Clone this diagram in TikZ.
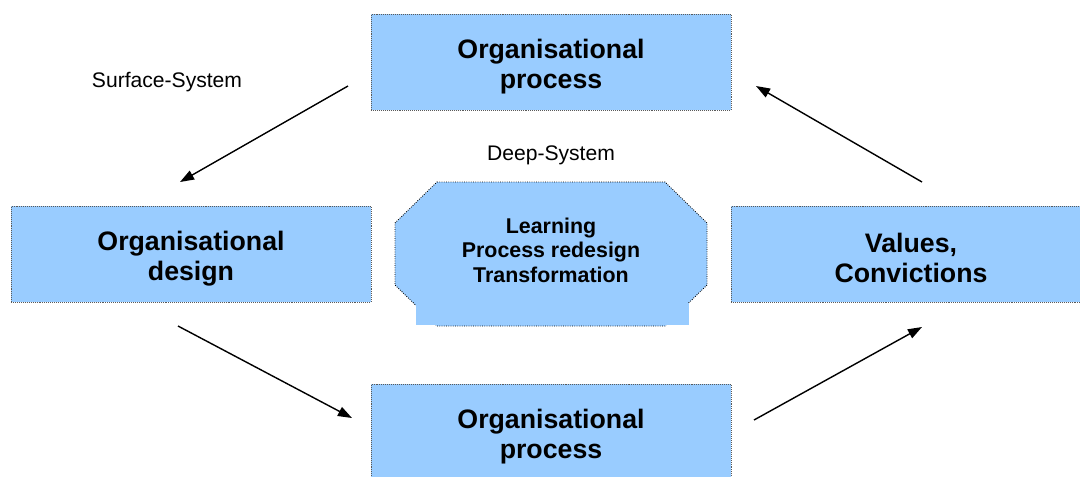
\documentclass[tikz,border=0pt]{standalone}
\usepackage{fontspec}
\setmainfont{Liberation Sans}
\usepackage{tikz}
\usetikzlibrary{arrows.meta,positioning,calc}
\definecolor{boxblue}{HTML}{99CCFF}
\newcommand{\boxlift}{\rule{0pt}{20pt}}

\begin{document}
\begin{tikzpicture}[x=0.025cm, y=-0.025cm,
  box/.style={draw=black!65, densely dotted, line width=0.4pt, fill=boxblue, align=center, minimum width=9cm, minimum height=2.4cm, inner sep=0pt, font=\fontsize{19}{21.3}\selectfont\bfseries},
  tag/.style={font=\fontsize{15}{17}\selectfont},
  flow/.style={-{Triangle[length=10pt, width=7pt]}, line width=1pt},
  >=Triangle]
\useasboundingbox (0,0) rectangle (1080,476);
% surface system
\node[box] (proctop) at (551,62) {\boxlift Organisational\\ process};
\node[box] (design) at (191,254) {\boxlift Organisational\\ design};
\node[box] (values) at (911,254) {\boxlift Values,\\ Convictions};
\node[box] (procbot) at (551,432) {\boxlift Organisational\\ process};
\node[tag] (surface) at (167,82) {Surface-System};
% deep system
\node[tag] (deeplabel) at (551,155) {Deep-System};
\fill[boxblue, draw=black, densely dotted, line width=0.6pt]
  (437,182) -- (665,182) -- (707,223) -- (707,285) -- (665,326) -- (437,326) -- (395,285) -- (395,223) -- cycle;
\fill[boxblue] (416,303) rectangle (689,324.5);
\node[align=center, font=\fontsize{15.2}{17.4}\selectfont\bfseries] (deep) at (551,250) {Learning\\ Process redesign\\ Transformation};
% cycle arrows
\coordinate (a1) at (348,86);  \coordinate (a2) at (180,182);
\coordinate (b1) at (178,326); \coordinate (b2) at (352,418);
\coordinate (c1) at (754,420); \coordinate (c2) at (922,327);
\coordinate (d1) at (922,182); \coordinate (d2) at (756,86);
\draw[flow] (a1) -- (a2);
\draw[flow] (b1) -- (b2);
\draw[flow] (c1) -- (c2);
\draw[flow] (d1) -- (d2);
\end{tikzpicture}
\end{document}
